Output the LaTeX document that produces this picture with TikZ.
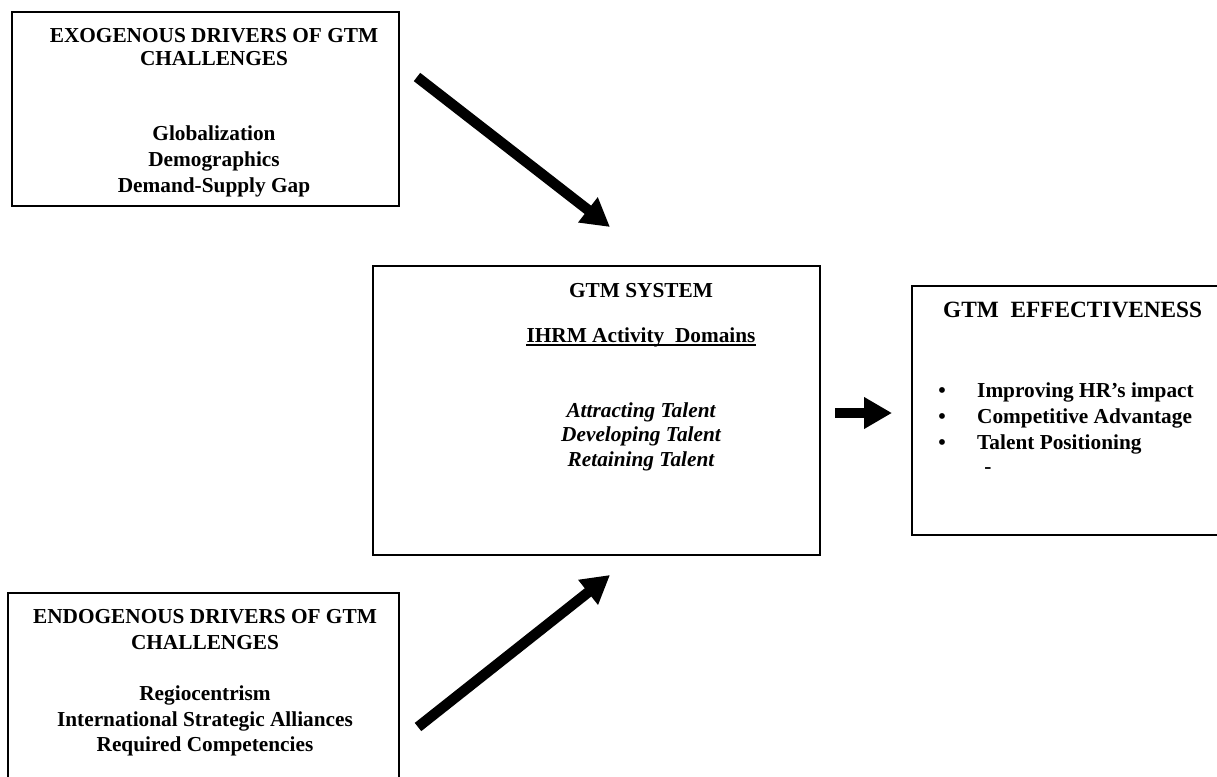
\documentclass[tikz,border=0pt]{standalone}
\usepackage{fontspec}
\setmainfont{Liberation Serif}
\usetikzlibrary{arrows.meta}
\newcommand{\bwidth}{2.5pt}
\newcommand{\awidth}{10.5pt}
\newcommand{\tsize}{\fontsize{21.3}{25.5}\selectfont}

\begin{document}
\begin{tikzpicture}[x=1pt,y=-1pt]
        %\draw[help lines] (0,0) grid[step=50] (1217,776);
        \useasboundingbox (0,0) rectangle (1217,776);
        \clip (0,0) rectangle (1217,776);
        \tikzset{box/.style = {draw, line width=\bwidth, inner sep=0pt}}
        \tikzset{txt/.style = {inner sep=0pt, anchor=base, font=\tsize\bfseries}}
        \tikzset{fat/.style = {line width=\awidth, -{Triangle[length=28pt, width=30pt]}}}

        \node[box, minimum width=387pt, minimum height=194pt] (exo) at (205.5,109) {};
        \node[box, minimum width=447pt, minimum height=289pt] (sys) at (596.5,410.5) {};
        \node[box, minimum width=318pt, minimum height=249pt] (eff) at (1071,410.5) {};
        \node[box, minimum width=391pt, minimum height=207pt] (endo) at (203.5,696.5) {};

        \node[txt] (exot1) at (214,42) {EXOGENOUS DRIVERS OF GTM};
        \node[txt] (exot2) at (214,65) {CHALLENGES};
        \foreach \t [count=\i] in {Globalization, Demographics, Demand-Supply Gap}
            \node[txt] (exo\i) at (214,114+26*\i) {\t};

        \node[txt] (endot1) at (205,623) {ENDOGENOUS DRIVERS OF GTM};
        \node[txt] (endot2) at (205,649) {CHALLENGES};
        \foreach \t [count=\i] in {Regiocentrism, International Strategic Alliances, Required Competencies}
            \node[txt] (endo\i) at (205,675+25.5*\i) {\t};

        \node[txt] (syst) at (641,297) {GTM SYSTEM};
        \node[txt] (ihrm) at (641,342) {IHRM Activity\ \ Domains};
        \draw[line width=1.6pt] ([yshift=-3pt]ihrm.base west) -- ([yshift=-3pt]ihrm.base east);
        \foreach \t [count=\i] in {Attracting Talent, Developing Talent, Retaining Talent}
            \node[txt, font=\tsize\bfseries\itshape] (sys\i) at (641,392.5+24.5*\i) {\t};

        \node[txt, anchor=base west, font=\fontsize{23.3}{28}\selectfont\bfseries] (efft) at (943,317) {GTM\ \ EFFECTIVENESS};
        \foreach \t [count=\i] in {Improving HR’s impact, Competitive Advantage, Talent Positioning}
        {
            \node[txt] (dot\i) at (942,371+26*\i) {\textbullet};
            \node[txt, anchor=base west] (eff\i) at (977,371+26*\i) {\t};
        }
        \node[txt] (dash) at (988,473) {-};

        \coordinate (from1) at (417,77);
        \coordinate (to1) at (610,227);
        \coordinate (from2) at (418,727);
        \coordinate (to2) at (610,575);
        \coordinate (from3) at (835,413);
        \coordinate (to3) at (892,413);
        \draw[fat] (from1) -- (to1);
        \draw[fat] (from2) -- (to2);
        \draw[fat] (from3) -- (to3);
\end{tikzpicture}
\end{document}
